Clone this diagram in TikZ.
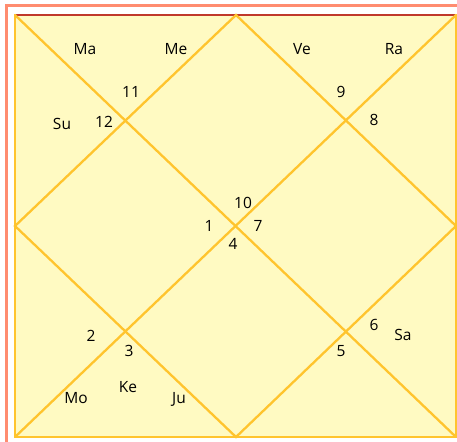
\documentclass[tikz,border=0pt]{standalone}
\usepackage{fontspec}
\setmainfont{Open Sans}
\usetikzlibrary{positioning}
\definecolor{chartfill}{HTML}{FFFAC2}
\definecolor{chartline}{HTML}{FFC42E}
\definecolor{frameline}{HTML}{FF8C70}
\definecolor{topline}{HTML}{C0392B}
\begin{document}
\begin{tikzpicture}[x=1pt,y=-1pt,
    every node/.style={font=\fontsize{15.5}{17}\selectfont, text=black, inner sep=0pt},
    house/.style={chartline, line width=2.3pt, line cap=round},
  ]
  \useasboundingbox (0,0) rectangle (457,441);
  % outer frame
  \draw[frameline, line width=3pt] (6,6) rectangle (470,460);
  % chart corners and midpoints
  \coordinate (nw) at (15,15);
  \coordinate (ne) at (456,15);
  \coordinate (se) at (456,437);
  \coordinate (sw) at (15,437);
  \coordinate (top) at (236,15);
  \coordinate (right) at (456,226);
  \coordinate (bottom) at (236,437);
  \coordinate (left) at (15,226);
  \fill[chartfill] (nw) rectangle (se);
  \draw[house] (nw) -- (sw) -- (se) -- (ne);
  \draw[topline, line width=1.3pt] (nw) -- (ne);
  \draw[house] (nw) -- (se);
  \draw[house] (ne) -- (sw);
  \draw[house] (top) -- (right) -- (bottom) -- (left) -- cycle;
  % house numbers
  \node (h1) at (209,226) {1};
  \node (h2) at (91,336) {2};
  \node (h3) at (129,351) {3};
  \node (h4) at (233,244) {4};
  \node (h5) at (341,351) {5};
  \node (h6) at (374,325) {6};
  \node (h7) at (258,226) {7};
  \node (h8) at (374,120) {8};
  \node (h9) at (341,92) {9};
  \node (h10) at (243,203) {10};
  \node (h11) at (131,92) {11};
  \node (h12) at (104,122) {12};
  % planets
  \node (ma) at (85,49) {Ma};
  \node (me) at (176,49) {Me};
  \node (ve) at (302,49) {Ve};
  \node (ra) at (394,49) {Ra};
  \node (su) at (62,124) {Su};
  \node (sa) at (403,335) {Sa};
  \node (mo) at (76,398) {Mo};
  \node (ke) at (128,387) {Ke};
  \node (ju) at (179,399) {Ju};
\end{tikzpicture}
\end{document}
